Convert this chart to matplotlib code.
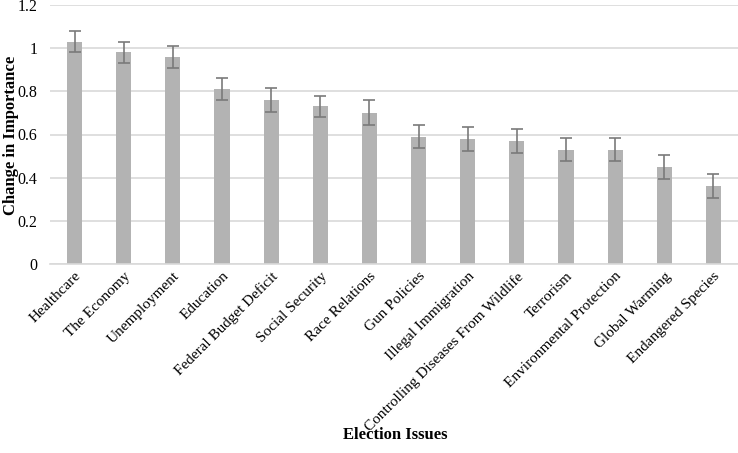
import matplotlib
matplotlib.use("Agg")
import matplotlib.pyplot as plt
import numpy as np

categories = ["Healthcare", "The Economy", "Unemployment", "Education",
              "Federal Budget Deficit", "Social Security", "Race Relations",
              "Gun Policies", "Illegal Immigration",
              "Controlling Diseases From Wildlife", "Terrorism",
              "Environmental Protection", "Global Warming", "Endangered Species"]
values = [1.03, 0.98, 0.96, 0.81, 0.76, 0.73, 0.70, 0.59, 0.58, 0.57,
          0.53, 0.53, 0.45, 0.36]
errors = [0.05, 0.05, 0.05, 0.052, 0.055, 0.05, 0.058, 0.053, 0.055,
          0.055, 0.052, 0.054, 0.056, 0.055]
yticks = [0, 0.2, 0.4, 0.6, 0.8, 1, 1.2]
yticklabels = ["0", "0.2", "0.4", "0.6", "0.8", "1", "1.2"]

plt.rcParams['font.family'] = ['Liberation Serif', 'DejaVu Serif']

fig = plt.figure(figsize=(7.38, 4.53), dpi=100)
ax = fig.add_axes([50/738, 1-264/453, 1-50/738, (264-5)/453])

x = np.arange(len(categories))
ax.bar(x, values, width=0.31, color="#b3b3b3", zorder=2)
ax.errorbar(x, values, yerr=errors, fmt='none', ecolor="#7a7a7a",
            elinewidth=1.2, capsize=4, capthick=1.2, zorder=3)

ax.set_xlim(-0.5, len(categories) - 0.5)
ax.set_ylim(0, 1.2)
ax.set_yticks(yticks)
ax.set_yticklabels(yticklabels, fontsize=11.5)
ax.yaxis.grid(True, color="#d9d9d9", linewidth=1.2, zorder=0)
ax.set_axisbelow(True)
for s in ["top", "right", "left"]:
    ax.spines[s].set_visible(False)
ax.spines["bottom"].set_color("#d9d9d9")
ax.spines["bottom"].set_linewidth(1.2)
ax.tick_params(axis='both', length=0)
ax.tick_params(axis='y', pad=9)

ax.set_xticks(x)
ax.set_xticklabels(categories, rotation=45, ha='right', va='top',
                   rotation_mode='anchor', fontsize=11)
ax.tick_params(axis='x', pad=4)

fig.text(11/738, 1-135/453, "Change in Importance", rotation=90,
         ha='center', va='center', fontsize=12, fontweight='bold')
fig.text(395/738, 1-435/453, "Election Issues", ha='center', va='center',
         fontsize=12, fontweight='bold')

fig.savefig("out.png", dpi=100)
